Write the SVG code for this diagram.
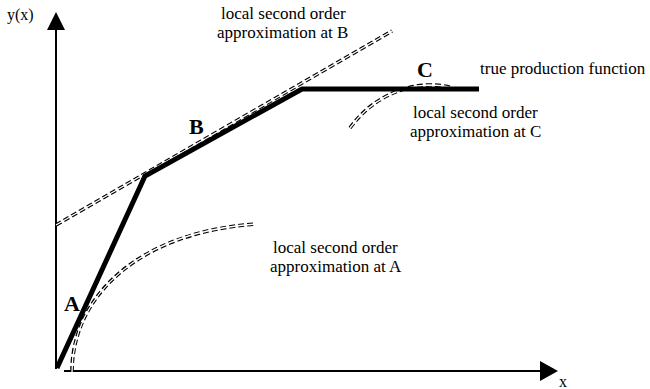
<svg xmlns="http://www.w3.org/2000/svg" width="650" height="389" viewBox="0 0 650 389">
<style>
text{font-family:"Liberation Serif","Times New Roman",serif;fill:#000}
.lbl{font-size:17px}
.pt{font-size:22px;font-weight:bold}
.ax{stroke:#000;stroke-width:2;fill:none}
.dd{fill:none;stroke:#000;stroke-width:3.6;stroke-dasharray:6 3}
.ddw{fill:none;stroke:#fff;stroke-width:1.3}
.prod{fill:none;stroke:#000;stroke-width:5;stroke-linejoin:miter}
</style>
<rect width="650" height="389" fill="#fff"/>
<g id="axes">
<line class="ax" x1="56" y1="369" x2="56" y2="28"/>
<polygon points="47,30 65,30 56,12" fill="#000"/>
<line class="ax" x1="64" y1="371" x2="542" y2="371"/>
<polygon points="540,361 540,381 558,371" fill="#000"/>
<text x="7" y="20" style="font-size:16px">y(x)</text>
<text x="559" y="387" style="font-size:16px">x</text>
</g>
<g id="connectors">
<g id="approxB">
<path class="dd" d="M56,225 L392,31"/>
<path class="ddw" d="M56,225 L392,31"/>
</g>
<g id="approxA">
<path class="dd" d="M72,372 C72,295 140,232 256,224"/>
<path class="ddw" d="M72,372 C72,295 140,232 256,224"/>
</g>
<g id="approxC">
<path class="dd" d="M350,128 C370,100 400,86 428,85 C440,85 447,86 452,88"/>
<path class="ddw" d="M350,128 C370,100 400,86 428,85 C440,85 447,86 452,88"/>
</g>
<path id="production" class="prod" d="M57,368 L145,176 L302,89 L479,89"/>
</g>
<g id="nodeA"><text class="pt" x="64" y="311">A</text></g>
<g id="nodeB"><text class="pt" x="189" y="134">B</text></g>
<g id="nodeC"><text class="pt" x="417" y="77">C</text></g>
<g id="labelTrue"><text class="lbl" x="480" y="74">true production function</text></g>
<g id="labelB">
<text class="lbl" x="221" y="19">local second order</text>
<text class="lbl" x="217" y="38">approximation at B</text>
</g>
<g id="labelC">
<text class="lbl" x="413" y="118">local second order</text>
<text class="lbl" x="410" y="137">approximation at C</text>
</g>
<g id="labelA">
<text class="lbl" x="273" y="253">local second order</text>
<text class="lbl" x="270" y="272">approximation at A</text>
</g>
</svg>
